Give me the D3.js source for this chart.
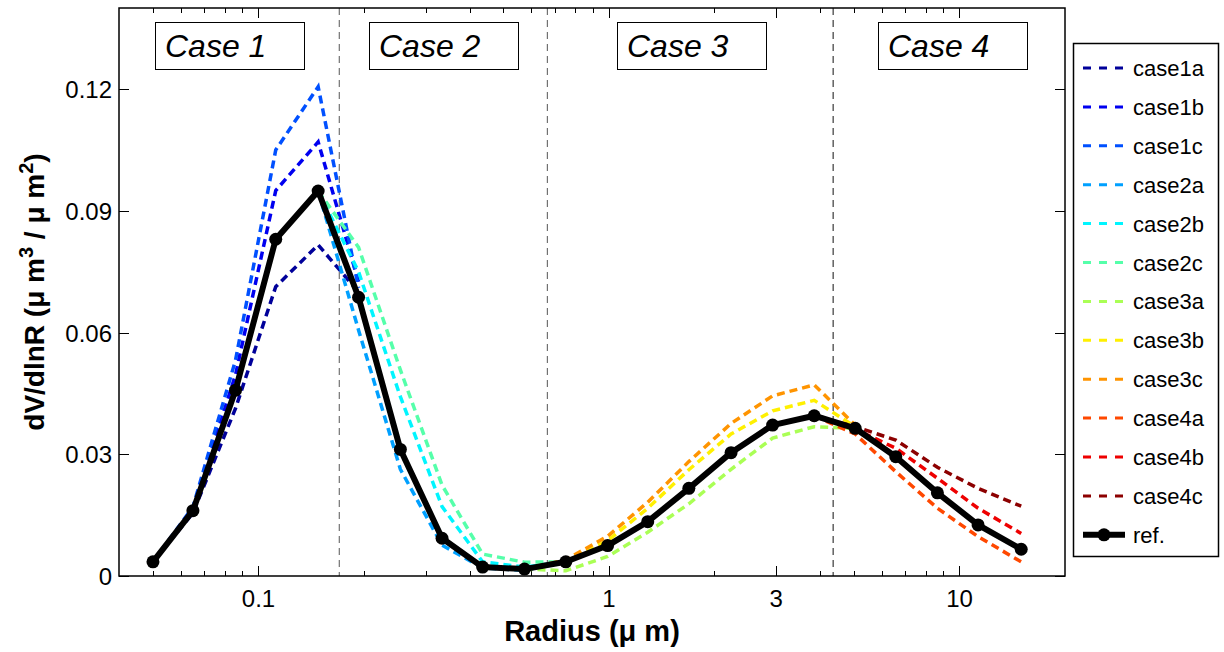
<!DOCTYPE html>
<html>
<head>
<meta charset="utf-8">
<script src="https://cdn.jsdelivr.net/npm/d3@7"></script>
<style>
  body { margin: 0; background: #fff; }
  svg { font-family: "Liberation Sans", Arial, sans-serif; }
</style>
</head>
<body>
<svg id="chart" width="1224" height="652"></svg>
<script>
// radius bins (um) and dV/dlnR values
const radius = [0.050, 0.065, 0.086, 0.112, 0.148, 0.193, 0.254, 0.334, 0.436, 0.574, 0.753,
                0.991, 1.29, 1.69, 2.23, 2.93, 3.85, 5.04, 6.58, 8.65, 11.3, 15.0];
const ref = [0.0035, 0.0161, 0.0458, 0.0830, 0.0949, 0.0687, 0.0312, 0.0093, 0.0022, 0.0017, 0.0035,
             0.0075, 0.0134, 0.0216, 0.0304, 0.0372, 0.0395, 0.0364, 0.0294, 0.0205, 0.0126, 0.0066];
const _ = null;
const case1a = [0.0035, 0.0155, 0.0413, 0.0713, 0.0816, 0.0700, _, _, _, _, _, _, _, _, _, _, _, _, _, _, _, _];
const case1b = [0.0035, 0.0165, 0.0496, 0.0950, 0.1070, 0.0725, _, _, _, _, _, _, _, _, _, _, _, _, _, _, _, _];
const case1c = [0.0035, 0.0170, 0.0532, 0.1050, 0.1206, 0.0710, _, _, _, _, _, _, _, _, _, _, _, _, _, _, _, _];
const case2a = [_, _, _, _, 0.0949, 0.0606, 0.0263, 0.0076, 0.0020, 0.0014, 0.0035, _, _, _, _, _, _, _, _, _, _, _];
const case2b = [_, _, _, _, 0.0949, 0.0750, 0.0442, 0.0171, 0.0035, 0.0022, 0.0035, _, _, _, _, _, _, _, _, _, _, _];
const case2c = [_, _, _, _, 0.0949, 0.0810, 0.0508, 0.0224, 0.0054, 0.0034, 0.0035, _, _, _, _, _, _, _, _, _, _, _];
const case3a = [_, _, _, _, _, _, _, _, _, 0.0017, 0.0013, 0.0048, 0.0108, 0.0178, 0.0263, 0.0340, 0.0368, 0.0364, _, _, _, _];
const case3b = [_, _, _, _, _, _, _, _, _, 0.0017, 0.0038, 0.0087, 0.0167, 0.0262, 0.0350, 0.0407, 0.0433, 0.0368, _, _, _, _];
const case3c = [_, _, _, _, _, _, _, _, _, 0.0017, 0.0040, 0.0098, 0.0182, 0.0282, 0.0376, 0.0444, 0.0471, 0.0372, _, _, _, _];
const case4a = [_, _, _, _, _, _, _, _, _, _, _, _, _, _, _, _, 0.0395, 0.0350, 0.0257, 0.0167, 0.0097, 0.0035];
const case4b = [_, _, _, _, _, _, _, _, _, _, _, _, _, _, _, _, 0.0395, 0.0362, 0.0315, 0.0241, 0.0167, 0.0105];
const case4c = [_, _, _, _, _, _, _, _, _, _, _, _, _, _, _, _, 0.0395, 0.0368, 0.0335, 0.0268, 0.0216, 0.0172];

const seriesNames = ['case1a','case1b','case1c','case2a','case2b','case2c','case3a','case3b','case3c','case4a','case4b','case4c'];
const seriesValues = [case1a, case1b, case1c, case2a, case2b, case2c, case3a, case3b, case3c, case4a, case4b, case4c];
const seriesColors = ['#00009a','#0000f0','#0050ff','#00a0ff','#00f5ff','#55ffaa','#aaff55','#fff000','#ff9400','#ff4800','#ee0000','#8c0000'];

const caseLabels = ['Case 1', 'Case 2', 'Case 3', 'Case 4'];
const caseBounds = [0.17, 0.667, 4.36];
const xTicks = [0.1, 1, 3, 10];
const yTicks = [0, 0.03, 0.06, 0.09, 0.12];

const svg = d3.select('#chart');
const margin = { top: 8, left: 119, right: 159, bottom: 76 };
const width = 1224, height = 652;
const innerWidth = width - margin.left - margin.right;
const innerHeight = height - margin.top - margin.bottom;

const xScale = d3.scaleLog().domain([0.04, 20]).range([0, innerWidth]);
const yScale = d3.scaleLinear().domain([0, 0.14]).range([innerHeight, 0]);

const g = svg.append('g').attr('transform', `translate(${margin.left},${margin.top})`);

// minor log ticks
const minorTicks = [];
[0.01, 0.1, 1, 10].forEach(dec => {
  for (let k = 2; k <= 9; k++) {
    const v = dec * k;
    if (v > 0.04 && v < 20 && !xTicks.includes(+v.toFixed(4))) minorTicks.push(v);
  }
});

const tickG = g.append('g').attr('stroke', '#000').attr('stroke-width', 1);
minorTicks.forEach(v => {
  const x = Math.round(xScale(v)) + 0.5;
  tickG.append('line').attr('x1', x).attr('x2', x).attr('y1', innerHeight).attr('y2', innerHeight - 5);
  tickG.append('line').attr('x1', x).attr('x2', x).attr('y1', 0).attr('y2', 5);
});
xTicks.forEach(v => {
  const x = Math.round(xScale(v)) + 0.5;
  tickG.append('line').attr('x1', x).attr('x2', x).attr('y1', innerHeight).attr('y2', innerHeight - 10);
  tickG.append('line').attr('x1', x).attr('x2', x).attr('y1', 0).attr('y2', 10);
});
yTicks.forEach(v => {
  const y = Math.round(yScale(v)) + 0.5;
  tickG.append('line').attr('x1', 0).attr('x2', 10).attr('y1', y).attr('y2', y);
  tickG.append('line').attr('x1', innerWidth).attr('x2', innerWidth - 10).attr('y1', y).attr('y2', y);
});

// tick labels
g.selectAll('.xlab').data(xTicks).enter().append('text')
  .attr('x', d => xScale(d)).attr('y', innerHeight + 31)
  .attr('text-anchor', 'middle').attr('font-size', 24)
  .text(d => d);
g.selectAll('.ylab').data(yTicks).enter().append('text')
  .attr('x', -7).attr('y', d => yScale(d) + 9)
  .attr('text-anchor', 'end').attr('font-size', 24)
  .text(d => d === 0 ? '0' : d.toFixed(2));

// case boundaries
g.selectAll('.bound').data(caseBounds).enter().append('line')
  .attr('x1', d => xScale(d)).attr('x2', d => xScale(d))
  .attr('y1', 0).attr('y2', innerHeight)
  .attr('stroke', (d, i) => i < 2 ? '#555' : '#111').attr('stroke-width', 1).attr('stroke-dasharray', '7,5');

// case label boxes
const boxLeft = [36, 250, 498, 759];
caseLabels.forEach((t, i) => {
  g.append('rect').attr('x', boxLeft[i] + 0.5).attr('y', 14.5).attr('width', 149).attr('height', 47)
    .attr('fill', '#fff').attr('stroke', '#000').attr('stroke-width', 1);
  g.append('text').attr('x', boxLeft[i] + 10).attr('y', 49)
    .attr('font-size', 32).attr('font-style', 'italic').text(t);
});

// case series
const line = d3.line()
  .defined(d => d[1] !== null)
  .x(d => xScale(d[0]))
  .y(d => yScale(d[1]));

seriesValues.forEach((vals, i) => {
  g.append('path')
    .datum(radius.map((r, j) => [r, vals[j]]))
    .attr('d', line)
    .attr('fill', 'none')
    .attr('stroke', seriesColors[i])
    .attr('stroke-width', 3.5)
    .attr('stroke-dasharray', '8,5');
});

// reference
g.append('path')
  .datum(radius.map((r, j) => [r, ref[j]]))
  .attr('d', line)
  .attr('fill', 'none').attr('stroke', '#000').attr('stroke-width', 6)
  .attr('stroke-linejoin', 'round');
g.selectAll('.refpt').data(radius).enter().append('circle')
  .attr('cx', d => xScale(d)).attr('cy', (d, j) => yScale(ref[j]))
  .attr('r', 6.5).attr('fill', '#000');

// frame
g.append('rect').attr('x', 0).attr('y', 0).attr('width', innerWidth).attr('height', innerHeight)
  .attr('fill', 'none').attr('stroke', '#000').attr('stroke-width', 1.5);

// axis titles
svg.append('text')
  .attr('x', margin.left + innerWidth / 2).attr('y', 641)
  .attr('text-anchor', 'middle').attr('font-size', 29).attr('font-weight', 'bold')
  .text('Radius (\u03bc m)');

const yt = svg.append('text')
  .attr('transform', 'translate(44,292) rotate(-90)')
  .attr('text-anchor', 'middle').attr('font-size', 28).attr('font-weight', 'bold');
yt.append('tspan').text('dV/dlnR (\u03bc m');
yt.append('tspan').attr('dy', -11).attr('font-size', 20).text('3');
yt.append('tspan').attr('dy', 11).text(' / \u03bc m');
yt.append('tspan').attr('dy', -11).attr('font-size', 20).text('2');
yt.append('tspan').attr('dy', 11).text(')');

// legend
const lg = svg.append('g').attr('transform', 'translate(1073,43)');
lg.append('rect').attr('x', 0.5).attr('y', 0.5).attr('width', 145).attr('height', 513)
  .attr('fill', '#fff').attr('stroke', '#000').attr('stroke-width', 1.5);
const legendNames = seriesNames.concat(['ref.']);
legendNames.forEach((name, i) => {
  const y = 25 + i * 38.9;
  if (i < seriesNames.length) {
    lg.append('line').attr('x1', 10).attr('x2', 52).attr('y1', y).attr('y2', y)
      .attr('stroke', seriesColors[i]).attr('stroke-width', 3).attr('stroke-dasharray', '8,8');
  } else {
    lg.append('line').attr('x1', 10).attr('x2', 52).attr('y1', y).attr('y2', y)
      .attr('stroke', '#000').attr('stroke-width', 6);
    lg.append('circle').attr('cx', 31).attr('cy', y).attr('r', 6.5).attr('fill', '#000');
  }
  lg.append('text').attr('x', 60).attr('y', y + 8).attr('font-size', 22).text(name);
});
</script>
</body>
</html>
